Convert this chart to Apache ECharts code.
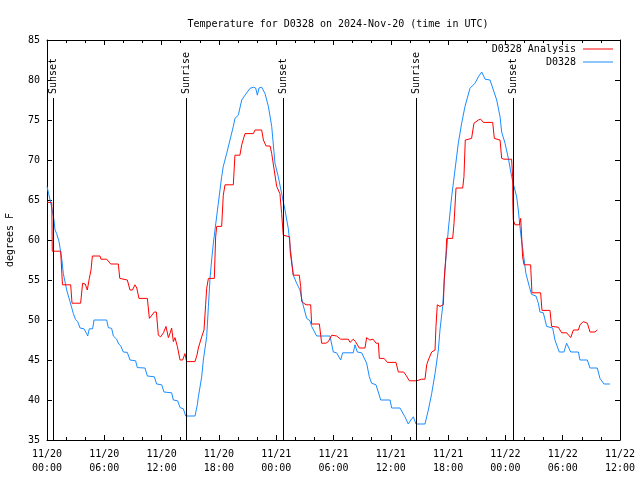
<!DOCTYPE html>
<html><head><meta charset="utf-8">
<script src="https://cdn.jsdelivr.net/npm/echarts@6/dist/echarts.min.js"></script>
<style>html,body{margin:0;padding:0;background:#fff}#c{width:640px;height:480px}</style>
</head><body><div id="c"></div>
<script>
// hours since 2024-11-20 00:00 UTC
const xTickLabels = ['11/20\n00:00','11/20\n06:00','11/20\n12:00','11/20\n18:00','11/21\n00:00','11/21\n06:00','11/21\n12:00','11/21\n18:00','11/22\n00:00','11/22\n06:00','11/22\n12:00'];
const eventNames = ['Sunset','Sunrise','Sunset','Sunrise','Sunset'];
const eventHours = [0.66, 14.63, 24.74, 38.64, 48.83];

const analysisHours = [0,0.5,0.55,1.43,1.62,2.48,2.62,3.52,3.73,4.0,4.22,4.43,4.61,4.75,5.55,5.65,6.25,6.45,6.67,7.47,7.62,8.41,8.69,8.95,9.21,9.4,9.63,10.51,10.72,11.24,11.45,11.66,11.9,12.2,12.46,12.71,12.9,13.05,13.23,13.4,13.65,13.93,14.2,14.45,14.62,15.5,15.7,15.85,16.2,16.44,16.61,16.72,16.9,17.52,17.66,17.77,18.29,18.46,18.64,19.51,19.68,20.2,20.39,20.73,21.61,21.78,22.48,22.66,22.94,23.36,23.53,24.05,24.39,24.57,24.74,24.81,25.4,25.47,25.79,26.42,26.56,26.67,27.12,27.61,27.71,28.52,28.76,29.2,29.46,29.81,30.33,30.75,31.55,31.73,32.07,32.3,32.7,33.3,33.47,33.8,34.15,34.45,34.7,34.8,35.3,35.5,35.64,36.54,36.79,37.35,37.59,37.94,38.7,39.23,39.58,39.76,39.93,40.28,40.63,40.73,40.87,41.15,41.5,41.6,41.78,41.85,42.48,42.62,42.83,43.53,43.66,43.8,44.46,44.71,45.17,45.41,45.69,46.67,46.84,47.44,47.61,47.85,48.65,48.76,48.78,48.83,49.0,49.46,49.6,49.65,49.8,49.95,50.64,50.78,51.69,51.83,52.67,52.84,53.54,53.89,54.41,54.6,54.84,55.12,55.64,55.81,56.16,56.58,56.86,57.38,57.62];
const analysisTemps = [64.7,64.7,58.6,58.6,54.4,54.4,52.1,52.1,54.6,54.5,53.75,55.2,56.25,58,58,57.6,57.6,57.4,57,57,55.2,55.0,53.75,53.75,54.4,54,52.7,52.7,50.2,51,51,48.1,47.9,48.4,49.2,47.8,48.4,49.0,47.3,47.8,46.7,45.0,45.0,45.8,44.8,44.8,45.6,46.5,47.9,48.75,51.9,53.96,55.2,55.2,60.4,61.7,61.7,65.6,66.9,66.9,70.6,70.6,71.9,73.3,73.3,73.75,73.75,72.5,71.75,71.75,70.8,66.7,65.8,63.3,60.6,60.4,60.4,58.5,55.6,55.6,54.2,52.3,51.9,51.9,49.5,49.5,47.1,47.1,47.3,48.1,48.0,47.6,47.6,47.2,47.6,47.3,46.5,46.5,47.8,47.5,47.6,47.1,47.1,45.2,45.2,45.4,44.7,44.7,43.5,43.5,43.1,42.4,42.4,42.6,42.6,44.4,45.0,46.0,46.25,49.2,51.9,51.7,51.9,55.2,58.1,60.2,60.2,62.1,66.5,66.5,67.9,72.5,72.7,74.6,75.0,75.1,74.7,74.7,72.7,72.5,70.2,70.1,70.1,67.9,64.6,62.5,61.9,61.9,62.7,61.7,57.9,56.9,56.9,53.4,53.4,51.2,51.2,49.2,49.1,48.4,48.4,48.4,47.8,48.75,48.75,49.4,49.8,49.6,48.5,48.5,48.75];

const obsHours = [0,0.17,0.4,0.59,0.73,0.84,1.01,1.26,1.54,1.71,2.06,2.41,2.76,2.97,3.21,3.46,3.87,4.15,4.26,4.43,4.78,4.92,6.25,6.42,6.77,6.95,7.3,7.5,7.71,7.99,8.41,8.69,9.28,9.46,10.26,10.51,11.24,11.48,12.01,12.25,13.05,13.23,13.68,13.93,14.28,14.52,15.5,15.74,15.85,16.2,16.37,16.72,16.9,17.07,17.24,17.42,17.59,17.94,18.29,18.46,18.81,19.16,19.51,19.68,20.03,20.39,20.73,21.26,21.61,21.85,22.03,22.2,22.48,22.83,23.18,23.53,23.87,24.22,24.57,24.92,25.27,25.48,25.79,26.14,26.49,26.77,27.19,27.54,27.71,28.24,29.63,29.98,30.33,30.75,30.96,32.07,32.25,32.49,32.95,33.47,33.75,33.99,34.45,34.69,34.94,35.92,36.09,36.96,37.13,37.48,37.83,37.95,38.1,38.36,38.64,39.58,39.93,40.28,40.63,40.98,41.15,41.43,41.67,42.02,42.37,42.72,43.07,43.42,43.77,44.29,44.82,45.17,45.52,45.87,46.39,46.74,47.09,47.44,47.61,47.96,48.31,48.66,48.9,49.18,49.35,49.6,49.88,50.15,50.5,50.74,51.2,51.45,51.62,51.97,52.32,52.95,53.19,53.64,54.13,54.41,54.6,54.84,55.64,55.81,56.58,56.86,57.62,57.9,58.32,58.95];
const obsTemps = [66.7,65.8,64.6,63.5,62.5,61.25,60.8,59.8,57.7,55.8,53.75,52.3,50.8,50.1,49.8,49.0,48.9,48.3,48.0,48.9,48.9,50.0,50.0,49.05,48.95,48.0,47.6,47.0,46.8,46.0,45.95,45.0,44.9,44.05,44.0,43.0,42.9,42.0,41.9,41.0,40.9,40.0,39.9,39.05,38.9,38.0,38.0,39.4,40.4,42.9,45.0,47.9,51.7,55.2,57.5,59.6,61.25,64.6,67.9,69.2,70.8,72.5,74.2,75.2,75.6,77.5,78.1,78.96,79.1,79.0,78.1,79.0,79.1,78.3,76.7,74.2,69.6,67.9,65.8,63.75,61.4,59.0,55.6,54.6,53.75,52.1,50.2,49.9,49.2,48.0,48.0,46.0,45.9,45.0,45.9,45.9,46.9,46.0,45.9,44.6,42.9,42.1,41.9,41.0,40.0,40.0,39.0,39.0,38.9,37.9,37.0,37.0,37.5,37.9,37.0,37.0,38.75,40.8,43.3,46.25,48.75,51.7,56.25,61.25,65.4,68.75,72.1,74.6,76.7,78.96,79.6,80.4,81.0,80.1,80.0,78.75,77.5,75.4,73.5,72.1,70.2,67.9,66.7,65.4,63.75,60.8,58.3,55.8,54.2,53.2,53.0,52.1,51.0,50.9,49.2,49.0,47.5,46.0,46.0,47.1,46.9,46.0,46.0,45.0,45.0,44.0,44.0,42.7,42.0,42.0];

const FONT = 'DejaVu Sans Mono';
const pairs = (xs, ys) => xs.map((x, i) => [x, ys[i]]);
const EVENT_BOTTOM = 35, EVENT_TOP = 77.75, EVENT_LABEL = 78.25;

const chart = echarts.init(document.getElementById('c'), null, {renderer: 'canvas'});
const axisCommon = {
  type: 'value', axisLine: {show: true, onZero: false, lineStyle: {color: '#000', width: 1}},
  splitLine: {show: false}
};
chart.setOption({
  animation: false,
  backgroundColor: '#fff',
  textStyle: {fontFamily: FONT},
  title: {
    text: 'Temperature for D0328 on 2024-Nov-20 (time in UTC)',
    left: 333, top: 14, textAlign: 'center',
    textStyle: {fontFamily: FONT, fontSize: 10, fontWeight: 'normal', color: '#000'}
  },
  legend: {
    data: ['D0328 Analysis', 'D0328'], orient: 'vertical', right: 27, top: 43, padding: 0,
    align: 'right', icon: 'rect', itemWidth: 30, itemHeight: 1, itemGap: 1,
    textStyle: {fontFamily: FONT, fontSize: 10, color: '#000', lineHeight: 12, padding: [0, 2, 0, 0]}
  },
  grid: {left: 47, right: 20, top: 40, bottom: 40, containLabel: false, outerBoundsMode: 'none'},
  xAxis: [
    Object.assign({}, axisCommon, {
      min: 0, max: 60, interval: 6, position: 'bottom',
      axisTick: {show: true, inside: true, length: 5, lineStyle: {color: '#000'}},
      minorTick: {show: true, splitNumber: 3, length: 3, lineStyle: {color: '#000'}},
      axisLabel: {fontFamily: FONT, fontSize: 10, color: '#000', margin: 7, lineHeight: 14,
        formatter: v => xTickLabels[Math.round(v / 6)] || ''}
    }),
    Object.assign({}, axisCommon, {
      min: 0, max: 60, interval: 6, position: 'top',
      axisTick: {show: true, inside: true, length: 5, lineStyle: {color: '#000'}},
      minorTick: {show: true, splitNumber: 3, length: 3, lineStyle: {color: '#000'}},
      axisLabel: {show: false}
    })
  ],
  yAxis: [
    Object.assign({}, axisCommon, {
      min: 35, max: 85, interval: 5, position: 'left',
      name: 'degrees F', nameLocation: 'middle', nameGap: 32,
      nameTextStyle: {fontFamily: FONT, fontSize: 10, color: '#000'},
      axisTick: {show: true, inside: true, length: 5, lineStyle: {color: '#000'}},
      axisLabel: {fontFamily: FONT, fontSize: 10, color: '#000', margin: 7}
    }),
    Object.assign({}, axisCommon, {
      min: 35, max: 85, interval: 5, position: 'right',
      axisTick: {show: true, inside: true, length: 5, lineStyle: {color: '#000'}},
      axisLabel: {show: false}
    })
  ],
  series: [
    {
      name: 'events', type: 'scatter', symbolSize: 0, silent: true,
      itemStyle: {color: '#000', opacity: 1},
      data: eventHours.map((h, i) => ({value: [h, EVENT_LABEL], name: eventNames[i]})),
      label: {show: true, position: [0, 0], rotate: 90, align: 'left', verticalAlign: 'middle',
        formatter: p => p.name, fontFamily: FONT, fontSize: 10, color: '#000', opacity: 1},
      markLine: {
        silent: true, symbol: ['none', 'none'], label: {show: false},
        lineStyle: {color: '#000', width: 1, type: 'solid'},
        data: eventHours.map(h => [{coord: [h, EVENT_BOTTOM]}, {coord: [h, EVENT_TOP]}])
      }
    },
    {
      name: 'D0328', type: 'line', symbol: 'none', showSymbol: false,
      lineStyle: {color: '#1a8cff', width: 1}, itemStyle: {color: '#1a8cff'},
      data: pairs(obsHours, obsTemps)
    },
    {
      name: 'D0328 Analysis', type: 'line', symbol: 'none', showSymbol: false,
      lineStyle: {color: '#ff0000', width: 1}, itemStyle: {color: '#ff0000'},
      data: pairs(analysisHours, analysisTemps)
    }
  ]
});
</script></body></html>
